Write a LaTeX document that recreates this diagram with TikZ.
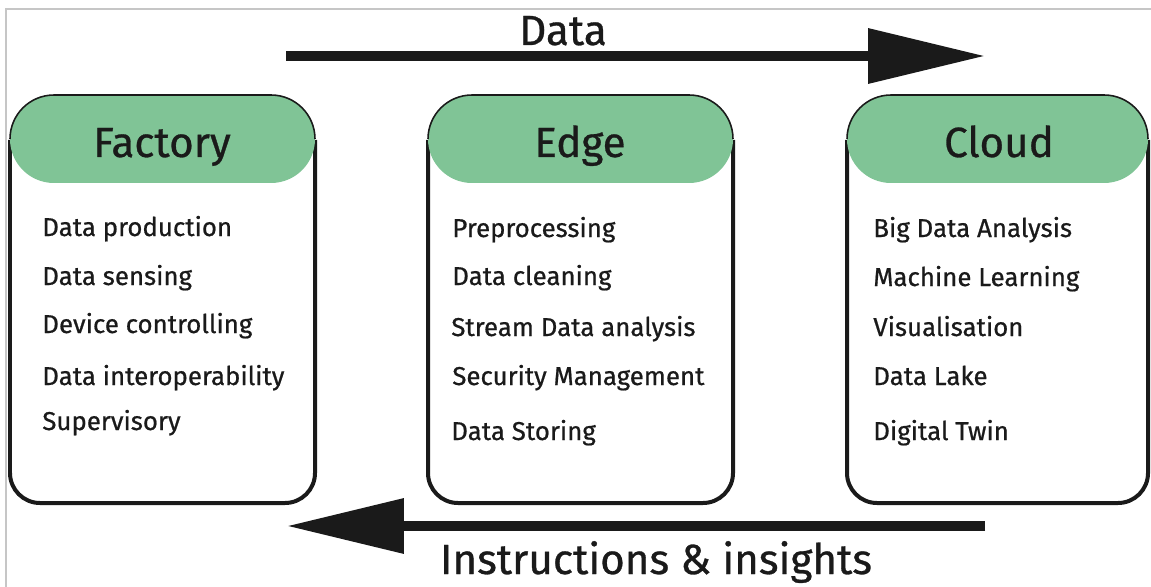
\documentclass[tikz,border=0pt]{standalone}
\usepackage{fontspec}
\setmainfont{Fira Sans}
\newfontfamily\dickfont{Fira Sans}[FakeBold=0.7]
\usetikzlibrary{arrows.meta}
\definecolor{kopfgruen}{RGB}{128,196,150}
\definecolor{tinte}{RGB}{26,26,26}

\begin{document}
\begin{tikzpicture}[x=0.02cm, y=-0.02cm]
			\tikzset{rahmen/.style={line width=0.08cm, draw=tinte, rounded corners=0.6cm},
			kopf/.style={fill=kopfgruen, rounded corners=0.88cm},
			kopflinie/.style={line width=0.9pt, draw=tinte},
			titel/.style={anchor=base, inner sep=0pt, text=tinte, font=\dickfont\fontsize{24}{28}\selectfont},
			eintrag/.style={anchor=base west, inner sep=0pt, text=tinte, font=\dickfont\fontsize{14.7}{17}\selectfont},
			pfeil/.style={line width=0.2cm, draw=tinte, -{Triangle[length=2.34cm, width=1.06cm]}}}

\useasboundingbox (0,0) rectangle (1151,587);
\draw [gray!45, line width=0.6pt] (6,587) -- (6,9) -- (1151,9);

% boxes
\draw [rahmen] (10,140) |- (315,503) -- (315,140);
\fill [kopf] (10,95) rectangle (315,183);
\draw [kopflinie] (10,139) arc[start angle=180, end angle=90, radius=0.88cm] -- (271,95) arc[start angle=90, end angle=0, radius=0.88cm];

\draw [rahmen] (428,140) |- (733,503) -- (733,140);
\fill [kopf] (428,95) rectangle (733,183);
\draw [kopflinie] (428,139) arc[start angle=180, end angle=90, radius=0.88cm] -- (689,95) arc[start angle=90, end angle=0, radius=0.88cm];

\draw [rahmen] (847,140) |- (1148,503) -- (1148,140);
\fill [kopf] (847,95) rectangle (1148,183);
\draw [kopflinie] (847,139) arc[start angle=180, end angle=90, radius=0.88cm] -- (1104,95) arc[start angle=90, end angle=0, radius=0.88cm];

\node[titel] at (162,157) (f) {Factory};
\node[titel] at (580,157) (e) {Edge};
\node[titel] at (999,157) (c) {Cloud};

\node[eintrag] at (42,236) (f1) {Data production};
\node[eintrag] at (42,285) (f2) {Data sensing};
\node[eintrag] at (42,333) (f3) {Device controlling};
\node[eintrag] at (42,385) (f4) {Data interoperability};
\node[eintrag] at (42,430) (f5) {Supervisory};

\node[eintrag] at (452,237) (e1) {Preprocessing};
\node[eintrag] at (452,285) (e2) {Data cleaning};
\node[eintrag] at (451,336) (e3) {Stream Data analysis};
\node[eintrag] at (452,385) (e4) {Security Management};
\node[eintrag] at (451,440) (e5) {Data Storing};

\node[eintrag] at (873,237) (c1) {Big Data Analysis};
\node[eintrag] at (873,286) (c2) {Machine Learning};
\node[eintrag] at (873,336) (c3) {Visualisation};
\node[eintrag] at (873,385) (c4) {Data Lake};
\node[eintrag] at (873,440) (c5) {Digital Twin};

% arrows
\coordinate (d1) at (286,56);
\coordinate (d2) at (985,56);
\coordinate (r1) at (985,526);
\coordinate (r2) at (287,526);
			\draw [pfeil] (d1) -- (d2);
			\draw [pfeil] (r1) -- (r2);
\node[titel] at (563,45) (data) {Data};
\node[titel] at (656,574) (ii) {Instructions \& insights};
		\end{tikzpicture}
\end{document}
